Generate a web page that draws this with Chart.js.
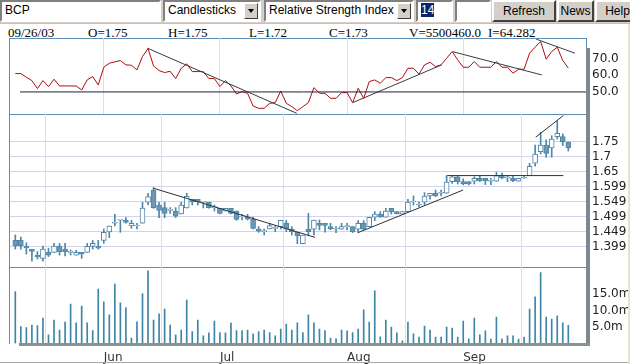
<!DOCTYPE html>
<html>
<head>
<meta charset="utf-8">
<script src="https://cdn.jsdelivr.net/npm/chart.js@4.4.1/dist/chart.umd.min.js"></script>
<style>
html, body { margin: 0; padding: 0; background: #fff; }
body { width: 630px; height: 364px; position: relative; overflow: hidden; font-family: "Liberation Sans", Arial, sans-serif; }
.abs { position: absolute; }
#toolbar { left: 0; top: 0; width: 630px; height: 23px; background: #d4d0c8; border-bottom: 1px solid #b9c3cb; }
.field { position: absolute; top: 0; height: 22px; box-sizing: border-box; background: #fff;
  border: 2px solid; border-color: #808080 #fff #fff #808080; font-size: 12px; line-height: 17px; padding-left: 3px; color: #000; white-space: nowrap; overflow: hidden; }
.arrow { position: absolute; top: 1px; right: 1px; width: 14px; height: 16px; box-sizing: border-box; background: #d4d0c8;
  border: 1px solid; border-color: #fff #404040 #404040 #fff; }
.arrow:after { content: ""; position: absolute; left: 3px; top: 5px; border-left: 3.5px solid transparent; border-right: 3.5px solid transparent; border-top: 4px solid #000; }
.btn { position: absolute; top: 0; height: 22px; box-sizing: border-box; background: #d4d0c8; border: 2px solid;
  border-color: #fff #404040 #404040 #fff; font-size: 12px; line-height: 18px; text-align: center; color: #000; }
.sel { background: #0a246a; color: #fff; }
.hdr { position: absolute; top: 25px; font-family: "Liberation Serif", "Times New Roman", serif; font-size: 13px; color: #000; white-space: nowrap; }
canvas { position: absolute; left: 0; }
.line { position: absolute; background: #5d8fb6; }
</style>
</head>
<body>
<div id="toolbar" class="abs">
  <div class="field" style="left:0;width:161px;">BCP</div>
  <div class="field" style="left:163px;width:98px;">Candlesticks<div class="arrow"></div></div>
  <div class="field" style="left:264px;width:150px;">Relative Strength Index<div class="arrow"></div></div>
  <div class="field" style="left:416px;width:37px;"><span class="sel">14</span></div>
  <div class="field" style="left:455px;width:36px;"></div>
  <div class="btn" style="left:492px;width:64px;">Refresh</div>
  <div class="btn" style="left:557px;width:37px;">News</div>
  <div class="btn" style="left:595px;width:45px;">Help</div>
</div>

<div class="hdr" style="left:8px;">09/26/03</div>
<div class="hdr" style="left:88px;">O=1.75</div>
<div class="hdr" style="left:168px;">H=1.75</div>
<div class="hdr" style="left:249px;">L=1.72</div>
<div class="hdr" style="left:329px;">C=1.73</div>
<div class="hdr" style="left:409px;">V=5500460.0</div>
<div class="hdr" style="left:488px;">I=64.282</div>

<div class="abs" style="left:9px;top:38px;width:576px;height:305px;border:1px solid #5d8fb6;border-bottom:none;"></div>
<div class="line" style="left:10px;top:114px;width:576px;height:1px;"></div>
<div class="line" style="left:10px;top:267px;width:576px;height:1px;"></div>

<canvas id="rsiChart" width="630" height="90" style="top:30px;"></canvas>
<canvas id="priceChart" width="630" height="165" style="top:108px;"></canvas>
<canvas id="volChart" width="630" height="104" style="top:260px;"></canvas>

<div class="abs" style="left:586px;top:48px;width:4px;height:298px;background:#7d8892;"></div>
<div class="abs" style="left:19px;top:343px;width:571px;height:3px;background:#8a948e;"></div>
<div class="abs" style="left:0;top:362px;width:628px;height:1px;background:#a8a8a8;"></div>
<div class="abs" style="left:628px;top:24px;width:2px;height:340px;background:#e6e2cf;"></div>

<script>
// month starts (bar index) and their labels
const monthIdx = [16, 37, 60, 81];
const monthLabels = ['Jun', 'Jul', 'Aug', 'Sep'];

// daily OHLC, 101 sessions
const openP = [1.422, 1.422, 1.403, 1.392, 1.373, 1.362, 1.382, 1.382, 1.403, 1.393,
  1.382, 1.373, 1.382, 1.382, 1.402, 1.403, 1.422, 1.45, 1.479, 1.489,
  1.489, 1.47, 1.47, 1.479, 1.549, 1.59, 1.54, 1.531, 1.522, 1.52,
  1.51, 1.53, 1.559, 1.559, 1.549, 1.549, 1.531, 1.529, 1.52, 1.529,
  1.52, 1.5, 1.5, 1.492, 1.46, 1.451, 1.46, 1.462, 1.468, 1.479,
  1.46, 1.449, 1.411, 1.459, 1.459, 1.479, 1.479, 1.468, 1.459, 1.459,
  1.468, 1.468, 1.459, 1.479, 1.468, 1.499, 1.51, 1.499, 1.529, 1.518,
  1.509, 1.518, 1.55, 1.539, 1.549, 1.57, 1.579, 1.579, 1.579, 1.618,
  1.634, 1.618, 1.618, 1.619, 1.629, 1.629, 1.619, 1.619, 1.638, 1.63,
  1.629, 1.619, 1.629, 1.638, 1.679, 1.718, 1.74, 1.73, 1.768, 1.768, 1.75];
const highP = [1.44, 1.433, 1.414, 1.392, 1.385, 1.403, 1.396, 1.412, 1.412, 1.412,
  1.39, 1.389, 1.382, 1.412, 1.422, 1.422, 1.46, 1.47, 1.509, 1.489,
  1.498, 1.489, 1.479, 1.549, 1.579, 1.598, 1.549, 1.549, 1.531, 1.531,
  1.549, 1.579, 1.559, 1.559, 1.549, 1.549, 1.54, 1.529, 1.529, 1.529,
  1.52, 1.509, 1.509, 1.5, 1.468, 1.46, 1.479, 1.471, 1.489, 1.489,
  1.468, 1.449, 1.44, 1.512, 1.49, 1.49, 1.479, 1.479, 1.468, 1.479,
  1.479, 1.468, 1.488, 1.488, 1.499, 1.518, 1.518, 1.529, 1.529, 1.518,
  1.518, 1.559, 1.57, 1.55, 1.581, 1.579, 1.59, 1.59, 1.638, 1.638,
  1.638, 1.627, 1.618, 1.634, 1.637, 1.629, 1.629, 1.649, 1.646, 1.638,
  1.638, 1.629, 1.638, 1.679, 1.74, 1.782, 1.757, 1.771, 1.821, 1.777, 1.75];
const lowP = [1.393, 1.393, 1.376, 1.353, 1.36, 1.353, 1.368, 1.382, 1.373, 1.37,
  1.373, 1.373, 1.362, 1.382, 1.393, 1.393, 1.412, 1.431, 1.47, 1.449,
  1.479, 1.462, 1.46, 1.479, 1.54, 1.529, 1.498, 1.498, 1.512, 1.498,
  1.51, 1.53, 1.54, 1.54, 1.53, 1.529, 1.52, 1.51, 1.52, 1.51,
  1.489, 1.49, 1.49, 1.46, 1.449, 1.44, 1.46, 1.451, 1.46, 1.451,
  1.44, 1.411, 1.411, 1.437, 1.44, 1.457, 1.449, 1.457, 1.448, 1.459,
  1.457, 1.448, 1.448, 1.457, 1.468, 1.488, 1.499, 1.499, 1.51, 1.51,
  1.509, 1.518, 1.54, 1.534, 1.54, 1.559, 1.568, 1.57, 1.579, 1.612,
  1.61, 1.607, 1.607, 1.61, 1.618, 1.608, 1.608, 1.619, 1.627, 1.618,
  1.618, 1.619, 1.629, 1.638, 1.669, 1.71, 1.699, 1.699, 1.76, 1.738, 1.72];
const closeP = [1.404, 1.404, 1.397, 1.385, 1.367, 1.393, 1.373, 1.403, 1.384, 1.384,
  1.382, 1.382, 1.376, 1.402, 1.412, 1.396, 1.449, 1.47, 1.479, 1.489,
  1.482, 1.479, 1.47, 1.53, 1.568, 1.531, 1.522, 1.512, 1.522, 1.503,
  1.54, 1.569, 1.551, 1.551, 1.549, 1.531, 1.531, 1.512, 1.529, 1.512,
  1.492, 1.5, 1.493, 1.462, 1.453, 1.451, 1.471, 1.462, 1.489, 1.46,
  1.451, 1.438, 1.44, 1.451, 1.49, 1.472, 1.472, 1.461, 1.459, 1.468,
  1.468, 1.451, 1.479, 1.459, 1.499, 1.51, 1.499, 1.52, 1.518, 1.51,
  1.518, 1.55, 1.55, 1.539, 1.57, 1.579, 1.57, 1.579, 1.616, 1.634,
  1.618, 1.61, 1.61, 1.629, 1.621, 1.621, 1.619, 1.638, 1.63, 1.63,
  1.621, 1.629, 1.629, 1.669, 1.71, 1.74, 1.712, 1.76, 1.779, 1.751, 1.73];

// volume in millions
const volume = [15.8, 5.1, 4.8, 5.6, 5.4, 7.7, 2.6, 7.1, 4.1, 6.5,
  12.0, 6.3, 11.4, 6.3, 3.9, 16.6, 12.7, 8.7, 18.1, 12.4,
  10.9, 1.6, 6.6, 15.2, 22.1, 7.1, 9.0, 10.5, 5.6, 2.6,
  4.1, 13.2, 3.6, 7.1, 2.3, 3.2, 6.8, 3.3, 3.2, 6.2,
  3.9, 3.9, 4.1, 2.9, 3.6, 4.1, 3.3, 2.3, 4.4, 5.9,
  4.1, 6.3, 3.3, 8.7, 6.3, 4.4, 3.9, 1.6, 1.4, 4.1,
  3.8, 3.3, 4.4, 10.2, 6.5, 16.0, 2.0, 7.1, 5.0, 3.2,
  0.8, 6.5, 2.9, 1.9, 5.3, 4.1, 1.9, 1.9, 5.0, 4.7,
  1.9, 6.8, 1.4, 7.7, 2.6, 3.8, 1.3, 8.0, 1.3, 2.3,
  2.3, 1.3, 1.9, 10.5, 14.2, 21.6, 8.0, 7.4, 8.4, 6.3, 5.5];

// RSI(14)
const rsi = [61, 61, 58.8, 56.8, 52, 56.8, 53.2, 57.6, 53.6, 53.6,
  53.6, 53.6, 51.2, 57.2, 59.2, 54.2, 64.8, 67.2, 68, 68.8,
  66.2, 66, 63.2, 71.2, 76, 65.6, 62.8, 61.6, 62.4, 58,
  64.2, 66.8, 62.2, 62.2, 62.2, 58, 58, 53.2, 56.8, 53.6,
  48.8, 50.2, 49.2, 41.6, 40.2, 40.2, 43.2, 43.6, 50.6, 43.2,
  41.2, 38.8, 41.2, 43.6, 52.6, 49.2, 49.2, 46.2, 46.2, 49.6,
  49.6, 43.6, 52.2, 46.2, 56.2, 57.2, 55.2, 58.6, 58.6, 56.8,
  58.6, 64.2, 64.2, 60.6, 66.2, 67.8, 65.2, 66.2, 70.2, 74.2,
  69.2, 64.8, 64.8, 68.2, 64.8, 64.8, 64.8, 68.2, 64.8, 64.8,
  61.2, 63.6, 63.6, 73.2, 76.8, 80.2, 69.6, 74.2, 76.8, 68.8, 64.3];

// axis ticks
const rsiTicks = [50, 60, 70];
const priceTicks = [1.75, 1.7, 1.65, 1.6, 1.55, 1.5, 1.45, 1.4];
const priceTickLabels = ['1.75', '1.7', '1.65', '1.599', '1.549', '1.499', '1.449', '1.399'];
const volTicks = [5, 10, 15];

// user-drawn lines: [x0, y0, x1, y1] in bar index / value units
const rsiLevel = [[0.85, 50, 104, 50]];
const rsiTrend = [[23.9, 76.2, 50.9, 37.2], [61.0, 43.6, 77.1, 66.2], [79.1, 74.1, 95.2, 60.2], [94.2, 81.6, 101.2, 73.2]];
const priceTrend = [[24.96, 1.596, 54.2, 1.432], [62.0, 1.448, 81.0, 1.59], [78.1, 1.638, 99.1, 1.638], [94.1, 1.766, 99.1, 1.838]];

const idx = closeP.map((_, i) => i);
const X_MIN = -0.96, X_MAX = 103.2;

Chart.defaults.font.family = 'DejaVu Sans';
Chart.defaults.font.size = 12;

function xAxis(showLabels, h) {
    return {
        type: 'linear', min: X_MIN, max: X_MAX, offset: false,
        afterBuildTicks: function (s) { s.ticks = monthIdx.map(v => ({ value: v })); },
        afterFit: function (s) { s.height = h; s.paddingLeft = 0; s.paddingRight = 0; },
        grid: { color: '#dcdcef', drawTicks: false },
        border: { display: false },
        ticks: {
            display: showLabels, autoSkip: false, maxRotation: 0, align: 'start', padding: 7,
            color: '#333', callback: (v, i) => monthLabels[i]
        }
    };
}

function yAxis(min, max, ticks, fmt, gridColor) {
    return {
        position: 'right', min: min, max: max,
        afterBuildTicks: function (s) { s.ticks = ticks.map(v => ({ value: v })); },
        afterFit: function (s) { s.width = 44; s.paddingTop = 0; s.paddingBottom = 0; },
        grid: { color: gridColor, tickColor: '#5d8fb6', tickLength: 4 },
        border: { display: false },
        ticks: { padding: 2, color: '#222', callback: fmt }
    };
}

function segments(list, color) {
    return list.map(t => ({
        type: 'line',
        data: [{ x: t[0], y: t[1] }, { x: t[2], y: t[3] }],
        borderColor: color, borderWidth: 1, pointRadius: 0, order: 1
    }));
}

function baseOptions(pad, xs, ys) {
    return {
        responsive: false, animation: false, events: [],
        layout: { padding: pad },
        plugins: { legend: { display: false }, tooltip: { enabled: false } },
        scales: { x: xs, y: ys }
    };
}

// RSI panel
new Chart(document.getElementById('rsiChart'), {
    type: 'line',
    data: {
        datasets: [{
            data: idx.map(i => ({ x: i, y: rsi[i] })),
            borderColor: '#b00c0c', borderWidth: 1, pointRadius: 0, tension: 0, order: 2
        }].concat(segments(rsiLevel, '#20203a'), segments(rsiTrend, '#3a3a48'))
    },
    options: baseOptions({ left: 10, top: 8, right: 0, bottom: 6 }, xAxis(false, 0),
        yAxis(36.8, 82.3, rsiTicks, v => v.toFixed(1), 'rgba(0,0,0,0)'))
});

// price panel (candlesticks)
const isUp = i => closeP[i] >= openP[i];
new Chart(document.getElementById('priceChart'), {
    type: 'bar',
    data: {
        datasets: [{
            data: idx.map(i => ({ x: i, y: [lowP[i], highP[i]] })),
            backgroundColor: '#4f87a8', barThickness: 1, grouped: false, order: 3
        }, {
            data: idx.map(i => ({ x: i, y: [openP[i], closeP[i]] })),
            backgroundColor: ctx => isUp(ctx.dataIndex) ? '#ffffff' : '#6b97b3',
            borderColor: '#4f87a8', borderWidth: 1, borderSkipped: false,
            barThickness: 5, minBarLength: 1, grouped: false, order: 2
        }].concat(segments(priceTrend, '#303038'))
    },
    options: baseOptions({ left: 10, top: 6, right: 0, bottom: 6 }, xAxis(false, 0),
        yAxis(1.3333, 1.8433, priceTicks, (v, i) => priceTickLabels[i], '#d3d3ee'))
});

// volume panel
new Chart(document.getElementById('volChart'), {
    type: 'bar',
    data: {
        datasets: [{
            data: idx.map(i => ({ x: i, y: volume[i] })),
            backgroundColor: '#3f85a5', barThickness: 1, grouped: false
        }]
    },
    options: baseOptions({ left: 10, top: 7, right: 0, bottom: 0 }, xAxis(true, 20.6),
        yAxis(0, 23.3, volTicks, v => v.toFixed(1) + 'm', 'rgba(0,0,0,0)'))
});
</script>
</body>
</html>
